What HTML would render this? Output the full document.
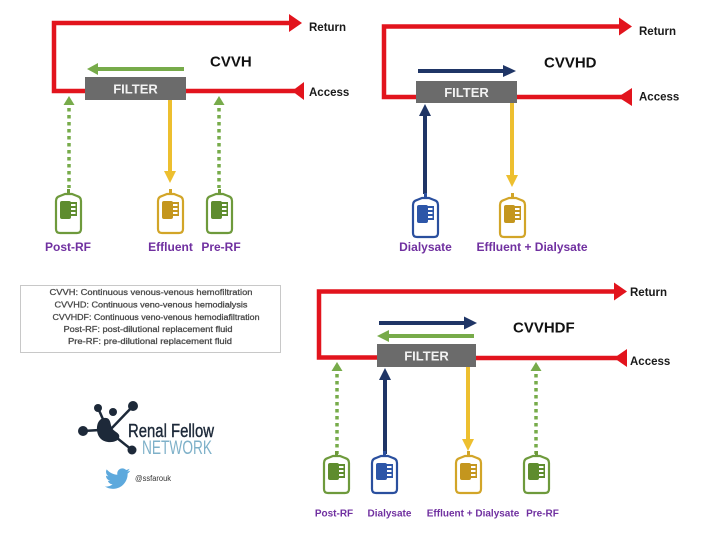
<!DOCTYPE html>
<html>
<head>
<meta charset="utf-8">
<style>
  html,body{margin:0;padding:0;background:#ffffff;}
  svg{display:block;}
  .lbl{font-family:"Liberation Sans",sans-serif;font-weight:bold;fill:#7030a0;}
  .ttl{font-family:"Liberation Sans",sans-serif;font-weight:bold;fill:#111;font-size:15px;}
  .ra{font-family:"Liberation Sans",sans-serif;font-weight:bold;fill:#1a1a1a;font-size:11.5px;}
  .flt{font-family:"Liberation Sans",sans-serif;font-weight:bold;fill:#f2f2f2;font-size:13px;}
  .leg{font-family:"Liberation Sans",sans-serif;fill:#4a4a4a;stroke:#4a4a4a;stroke-width:0.3;font-size:8.7px;}
</style>
</head>
<body>
<svg width="720" height="539" viewBox="0 0 720 539" xmlns="http://www.w3.org/2000/svg">

  <!-- ============ CVVH ============ -->
  <g>
    <polyline points="290,23 54,23 54,91 86,91" fill="none" stroke="#e2141d" stroke-width="4.5"/>
    <polygon points="289,14 302,23 289,32" fill="#e2141d"/>
    <line x1="186" y1="91" x2="295" y2="91" stroke="#e2141d" stroke-width="4.5"/>
    <polygon points="292,91 304,82 304,100" fill="#e2141d"/>
    <rect x="85" y="77" width="101" height="23" fill="#6b6b6b"/>
    <text x="135.5" y="93.5" class="flt" text-anchor="middle">FILTER</text>
    <line x1="184" y1="69" x2="96" y2="69" stroke="#77ab4a" stroke-width="4"/>
    <polygon points="87,69 98,63 98,75" fill="#77ab4a"/>
    <text x="210" y="66.5" class="ttl">CVVH</text>
    <text x="309" y="31" class="ra">Return</text>
    <text x="309" y="96" class="ra">Access</text>
    <polygon points="69,96 63.5,105 74.5,105" fill="#77ab4a"/>
    <line x1="69" y1="108" x2="69" y2="188" stroke="#77ab4a" stroke-width="3.5" stroke-dasharray="3.5,3.5"/>
    <polygon points="219,96 213.5,105 224.5,105" fill="#77ab4a"/>
    <line x1="219" y1="108" x2="219" y2="188" stroke="#77ab4a" stroke-width="3.5" stroke-dasharray="3.5,3.5"/>
    <line x1="170" y1="100" x2="170" y2="173" stroke="#edbf2f" stroke-width="4"/>
    <polygon points="164,171 176,171 170,183" fill="#edbf2f"/>
    <text x="68" y="251" class="lbl" font-size="12" text-anchor="middle">Post-RF</text>
    <text x="170.5" y="251" class="lbl" font-size="12" text-anchor="middle">Effluent</text>
    <text x="221" y="251" class="lbl" font-size="12" text-anchor="middle">Pre-RF</text>
  </g>

  <!-- ============ CVVHD ============ -->
  <g>
    <polyline points="620,26.5 384,26.5 384,97 416,97" fill="none" stroke="#e2141d" stroke-width="4.5"/>
    <polygon points="619,17.5 632,26.5 619,35.5" fill="#e2141d"/>
    <line x1="517" y1="97" x2="622" y2="97" stroke="#e2141d" stroke-width="4.5"/>
    <polygon points="618,97 632,88 632,106" fill="#e2141d"/>
    <rect x="416" y="81" width="101" height="22" fill="#6b6b6b"/>
    <text x="466.5" y="97" class="flt" text-anchor="middle">FILTER</text>
    <line x1="418" y1="71" x2="506" y2="71" stroke="#1f3566" stroke-width="4"/>
    <polygon points="503,65 516,71 503,77" fill="#1f3566"/>
    <text x="544" y="67.5" class="ttl">CVVHD</text>
    <text x="639" y="35" class="ra">Return</text>
    <text x="639" y="100.5" class="ra">Access</text>
    <line x1="425" y1="194" x2="425" y2="114" stroke="#1f3566" stroke-width="4"/>
    <polygon points="425,104 419,116 431,116" fill="#1f3566"/>
    <line x1="512" y1="103" x2="512" y2="177" stroke="#edbf2f" stroke-width="4"/>
    <polygon points="506,175 518,175 512,187" fill="#edbf2f"/>
    <text x="425.5" y="251" class="lbl" font-size="12" text-anchor="middle">Dialysate</text>
    <text x="532" y="251" class="lbl" font-size="12" text-anchor="middle">Effluent + Dialysate</text>
  </g>

  <!-- ============ CVVHDF ============ -->
  <g>
    <polyline points="616,291.5 319,291.5 319,357.5 377,357.5" fill="none" stroke="#e2141d" stroke-width="4.5"/>
    <polygon points="614,282.5 627,291.5 614,300.5" fill="#e2141d"/>
    <line x1="476" y1="358" x2="618" y2="358" stroke="#e2141d" stroke-width="4.5"/>
    <polygon points="614,358 627,349 627,367" fill="#e2141d"/>
    <rect x="377" y="344" width="99" height="23" fill="#6b6b6b"/>
    <text x="426.5" y="360.5" class="flt" text-anchor="middle">FILTER</text>
    <line x1="379" y1="323" x2="466" y2="323" stroke="#1f3566" stroke-width="4"/>
    <polygon points="464,316.5 477,323 464,329.5" fill="#1f3566"/>
    <line x1="474" y1="336" x2="388" y2="336" stroke="#77ab4a" stroke-width="4"/>
    <polygon points="377,336 389,330 389,342" fill="#77ab4a"/>
    <text x="513" y="332.5" class="ttl">CVVHDF</text>
    <text x="630" y="296" class="ra">Return</text>
    <text x="630" y="365" class="ra">Access</text>
    <polygon points="337,362 331.5,371 342.5,371" fill="#77ab4a"/>
    <line x1="337" y1="374" x2="337" y2="454" stroke="#77ab4a" stroke-width="3.5" stroke-dasharray="3.5,3.5"/>
    <line x1="385" y1="454" x2="385" y2="378" stroke="#1f3566" stroke-width="4"/>
    <polygon points="385,368 379,380 391,380" fill="#1f3566"/>
    <line x1="468" y1="367" x2="468" y2="441" stroke="#edbf2f" stroke-width="4"/>
    <polygon points="462,439 474,439 468,451" fill="#edbf2f"/>
    <polygon points="536,362 530.5,371 541.5,371" fill="#77ab4a"/>
    <line x1="536" y1="374" x2="536" y2="454" stroke="#77ab4a" stroke-width="3.5" stroke-dasharray="3.5,3.5"/>
    <text x="334" y="516.5" class="lbl" font-size="10" text-anchor="middle">Post-RF</text>
    <text x="389.5" y="516.5" class="lbl" font-size="10" text-anchor="middle">Dialysate</text>
    <text x="473" y="516.5" class="lbl" font-size="10" text-anchor="middle">Effluent + Dialysate</text>
    <text x="542.5" y="516.5" class="lbl" font-size="10" text-anchor="middle">Pre-RF</text>
  </g>

  <!-- ============ BAGS ============ -->
  <g>
    <g transform="translate(56,196)">
      <rect x="11" y="-7" width="3" height="6" fill="#6e9a3c"/>
      <path d="M4,0 L9,-2 L16,-2 L21,0 Q25,1 25,5 L25,33 Q25,37 21,37 L4,37 Q0,37 0,33 L0,5 Q0,1 4,0 Z" fill="#fff" stroke="#6e9a3c" stroke-width="2.2"/>
      <rect x="4" y="5" width="11" height="18" rx="2" fill="#5e8c2e"/>
      <rect x="14" y="6" width="6" height="2" fill="#5e8c2e"/><rect x="14" y="10" width="6" height="2" fill="#5e8c2e"/><rect x="14" y="14" width="6" height="2" fill="#5e8c2e"/><rect x="14" y="18" width="6" height="2" fill="#5e8c2e"/>
      <rect x="19.5" y="6" width="1.5" height="14" fill="#5e8c2e"/>
    </g>
    <g transform="translate(158,196)">
      <rect x="11" y="-7" width="3" height="6" fill="#d2a528"/>
      <path d="M4,0 L9,-2 L16,-2 L21,0 Q25,1 25,5 L25,33 Q25,37 21,37 L4,37 Q0,37 0,33 L0,5 Q0,1 4,0 Z" fill="#fff" stroke="#d2a528" stroke-width="2.2"/>
      <rect x="4" y="5" width="11" height="18" rx="2" fill="#c4961e"/>
      <rect x="14" y="6" width="6" height="2" fill="#c4961e"/><rect x="14" y="10" width="6" height="2" fill="#c4961e"/><rect x="14" y="14" width="6" height="2" fill="#c4961e"/><rect x="14" y="18" width="6" height="2" fill="#c4961e"/>
      <rect x="19.5" y="6" width="1.5" height="14" fill="#c4961e"/>
    </g>
    <g transform="translate(207,196)">
      <rect x="11" y="-7" width="3" height="6" fill="#6e9a3c"/>
      <path d="M4,0 L9,-2 L16,-2 L21,0 Q25,1 25,5 L25,33 Q25,37 21,37 L4,37 Q0,37 0,33 L0,5 Q0,1 4,0 Z" fill="#fff" stroke="#6e9a3c" stroke-width="2.2"/>
      <rect x="4" y="5" width="11" height="18" rx="2" fill="#5e8c2e"/>
      <rect x="14" y="6" width="6" height="2" fill="#5e8c2e"/><rect x="14" y="10" width="6" height="2" fill="#5e8c2e"/><rect x="14" y="14" width="6" height="2" fill="#5e8c2e"/><rect x="14" y="18" width="6" height="2" fill="#5e8c2e"/>
      <rect x="19.5" y="6" width="1.5" height="14" fill="#5e8c2e"/>
    </g>
    <g transform="translate(413,200)">
      <rect x="11" y="-7" width="3" height="6" fill="#2a4f9e"/>
      <path d="M4,0 L9,-2 L16,-2 L21,0 Q25,1 25,5 L25,33 Q25,37 21,37 L4,37 Q0,37 0,33 L0,5 Q0,1 4,0 Z" fill="#fff" stroke="#2a4f9e" stroke-width="2.2"/>
      <rect x="4" y="5" width="11" height="18" rx="2" fill="#2d56a8"/>
      <rect x="14" y="6" width="6" height="2" fill="#2d56a8"/><rect x="14" y="10" width="6" height="2" fill="#2d56a8"/><rect x="14" y="14" width="6" height="2" fill="#2d56a8"/><rect x="14" y="18" width="6" height="2" fill="#2d56a8"/>
      <rect x="19.5" y="6" width="1.5" height="14" fill="#2d56a8"/>
    </g>
    <g transform="translate(500,200)">
      <rect x="11" y="-7" width="3" height="6" fill="#d2a528"/>
      <path d="M4,0 L9,-2 L16,-2 L21,0 Q25,1 25,5 L25,33 Q25,37 21,37 L4,37 Q0,37 0,33 L0,5 Q0,1 4,0 Z" fill="#fff" stroke="#d2a528" stroke-width="2.2"/>
      <rect x="4" y="5" width="11" height="18" rx="2" fill="#c4961e"/>
      <rect x="14" y="6" width="6" height="2" fill="#c4961e"/><rect x="14" y="10" width="6" height="2" fill="#c4961e"/><rect x="14" y="14" width="6" height="2" fill="#c4961e"/><rect x="14" y="18" width="6" height="2" fill="#c4961e"/>
      <rect x="19.5" y="6" width="1.5" height="14" fill="#c4961e"/>
    </g>
    <g transform="translate(324,458)">
      <rect x="11" y="-7" width="3" height="6" fill="#6e9a3c"/>
      <path d="M4,0 L9,-2 L16,-2 L21,0 Q25,1 25,5 L25,31 Q25,35 21,35 L4,35 Q0,35 0,31 L0,5 Q0,1 4,0 Z" fill="#fff" stroke="#6e9a3c" stroke-width="2.2"/>
      <rect x="4" y="5" width="11" height="17" rx="2" fill="#5e8c2e"/>
      <rect x="14" y="6" width="6" height="2" fill="#5e8c2e"/><rect x="14" y="10" width="6" height="2" fill="#5e8c2e"/><rect x="14" y="14" width="6" height="2" fill="#5e8c2e"/><rect x="14" y="18" width="6" height="2" fill="#5e8c2e"/>
      <rect x="19.5" y="6" width="1.5" height="14" fill="#5e8c2e"/>
    </g>
    <g transform="translate(372,458)">
      <rect x="11" y="-7" width="3" height="6" fill="#2a4f9e"/>
      <path d="M4,0 L9,-2 L16,-2 L21,0 Q25,1 25,5 L25,31 Q25,35 21,35 L4,35 Q0,35 0,31 L0,5 Q0,1 4,0 Z" fill="#fff" stroke="#2a4f9e" stroke-width="2.2"/>
      <rect x="4" y="5" width="11" height="17" rx="2" fill="#2d56a8"/>
      <rect x="14" y="6" width="6" height="2" fill="#2d56a8"/><rect x="14" y="10" width="6" height="2" fill="#2d56a8"/><rect x="14" y="14" width="6" height="2" fill="#2d56a8"/><rect x="14" y="18" width="6" height="2" fill="#2d56a8"/>
      <rect x="19.5" y="6" width="1.5" height="14" fill="#2d56a8"/>
    </g>
    <g transform="translate(456,458)">
      <rect x="11" y="-7" width="3" height="6" fill="#d2a528"/>
      <path d="M4,0 L9,-2 L16,-2 L21,0 Q25,1 25,5 L25,31 Q25,35 21,35 L4,35 Q0,35 0,31 L0,5 Q0,1 4,0 Z" fill="#fff" stroke="#d2a528" stroke-width="2.2"/>
      <rect x="4" y="5" width="11" height="17" rx="2" fill="#c4961e"/>
      <rect x="14" y="6" width="6" height="2" fill="#c4961e"/><rect x="14" y="10" width="6" height="2" fill="#c4961e"/><rect x="14" y="14" width="6" height="2" fill="#c4961e"/><rect x="14" y="18" width="6" height="2" fill="#c4961e"/>
      <rect x="19.5" y="6" width="1.5" height="14" fill="#c4961e"/>
    </g>
    <g transform="translate(524,458)">
      <rect x="11" y="-7" width="3" height="6" fill="#6e9a3c"/>
      <path d="M4,0 L9,-2 L16,-2 L21,0 Q25,1 25,5 L25,31 Q25,35 21,35 L4,35 Q0,35 0,31 L0,5 Q0,1 4,0 Z" fill="#fff" stroke="#6e9a3c" stroke-width="2.2"/>
      <rect x="4" y="5" width="11" height="17" rx="2" fill="#5e8c2e"/>
      <rect x="14" y="6" width="6" height="2" fill="#5e8c2e"/><rect x="14" y="10" width="6" height="2" fill="#5e8c2e"/><rect x="14" y="14" width="6" height="2" fill="#5e8c2e"/><rect x="14" y="18" width="6" height="2" fill="#5e8c2e"/>
      <rect x="19.5" y="6" width="1.5" height="14" fill="#5e8c2e"/>
    </g>
  </g>

  <!-- ============ LEGEND ============ -->
  <rect x="20.5" y="285.5" width="260" height="67" fill="#fff" stroke="#c8c8c8" stroke-width="1"/>
  <text x="151" y="295" class="leg" text-anchor="middle" textLength="203" lengthAdjust="spacingAndGlyphs">CVVH: Continuous venous-venous hemofiltration</text>
  <text x="151" y="307.5" class="leg" text-anchor="middle" textLength="193" lengthAdjust="spacingAndGlyphs">CVVHD: Continuous veno-venous hemodialysis</text>
  <text x="156" y="320" class="leg" text-anchor="middle" textLength="207" lengthAdjust="spacingAndGlyphs">CVVHDF: Continuous veno-venous hemodiafiltration</text>
  <text x="148" y="332" class="leg" text-anchor="middle" textLength="169" lengthAdjust="spacingAndGlyphs">Post-RF: post-dilutional replacement fluid</text>
  <text x="150" y="344" class="leg" text-anchor="middle" textLength="164" lengthAdjust="spacingAndGlyphs">Pre-RF: pre-dilutional replacement fluid</text>

  <!-- ============ LOGO ============ -->
  <g fill="#1d2939" stroke="#1d2939">
    <line x1="98" y1="408" x2="106" y2="426" stroke-width="2.5"/>
    <line x1="133" y1="406" x2="110" y2="430" stroke-width="2.5"/>
    <line x1="83" y1="431" x2="100" y2="430" stroke-width="2.5"/>
    <line x1="132" y1="450" x2="112" y2="434" stroke-width="2.5"/>
    <circle cx="98" cy="408" r="4" stroke="none"/>
    <circle cx="113" cy="412" r="4" stroke="none"/>
    <circle cx="133" cy="406" r="5" stroke="none"/>
    <circle cx="83" cy="431" r="5" stroke="none"/>
    <circle cx="132" cy="450" r="4.5" stroke="none"/>
    <path d="M104,418 C96,419 95,432 100,438 C105,444 117,443 119,438 C121,433 114,432 112,428 C110,424 111,417 104,418 Z" stroke="none"/>
  </g>
  <text x="128" y="437" font-family="Liberation Sans, sans-serif" font-size="18" fill="#1d2939" stroke="#1d2939" stroke-width="0.4" textLength="86" lengthAdjust="spacingAndGlyphs">Renal Fellow</text>
  <text x="142" y="454" font-family="Liberation Sans, sans-serif" font-size="19" fill="#7fb1c9" textLength="70" lengthAdjust="spacingAndGlyphs">NETWORK</text>
  <path transform="translate(105,466) scale(1.05)" fill="#5da9dd" d="M23.954 4.569c-.885.389-1.83.654-2.825.775 1.014-.611 1.794-1.574 2.163-2.723-.951.555-2.005.959-3.127 1.184-.896-.959-2.173-1.559-3.591-1.559-2.717 0-4.920 2.203-4.920 4.917 0 .39.045.765.127 1.124C7.691 8.094 4.066 6.13 1.64 3.161c-.427.722-.666 1.561-.666 2.475 0 1.71.87 3.213 2.188 4.096-.807-.026-1.566-.248-2.228-.616v.061c0 2.385 1.693 4.374 3.946 4.827-.413.111-.849.171-1.296.171-.314 0-.615-.03-.916-.086.631 1.953 2.445 3.377 4.604 3.417-1.68 1.319-3.809 2.105-6.102 2.105-.39 0-.779-.023-1.17-.067 2.189 1.394 4.768 2.209 7.557 2.209 9.054 0 13.999-7.496 13.999-13.986 0-.209 0-.42-.015-.63.961-.689 1.8-1.56 2.46-2.548l-.047-.02z"/>
  <text x="135" y="481" font-family="Liberation Sans, sans-serif" font-size="8" fill="#333" textLength="36" lengthAdjust="spacingAndGlyphs">@ssfarouk</text>
</svg>
</body>
</html>
